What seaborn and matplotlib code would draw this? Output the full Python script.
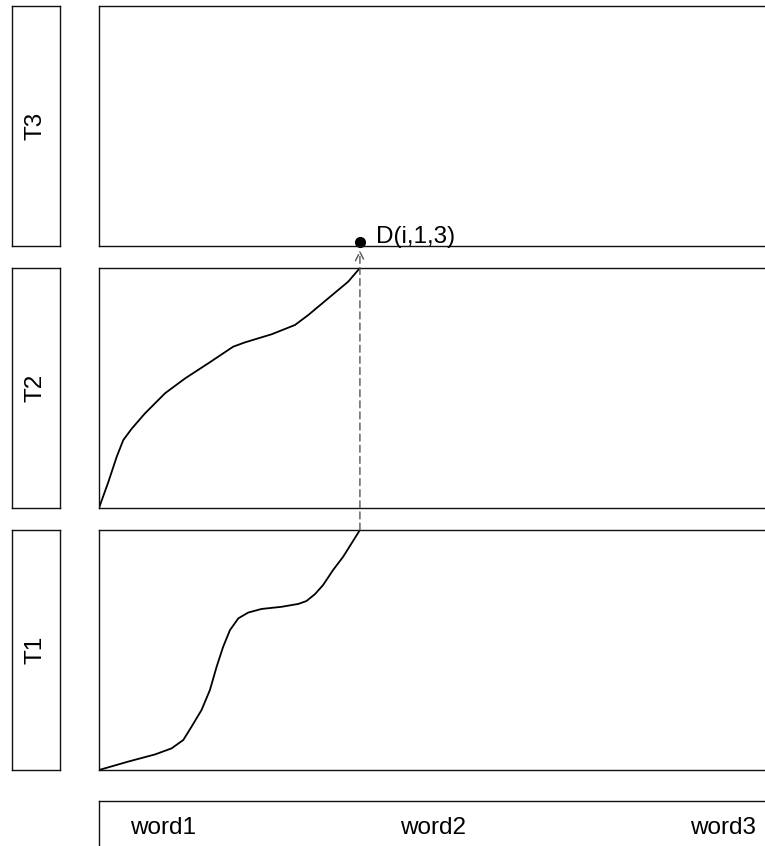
import matplotlib
matplotlib.use("Agg")
import matplotlib.pyplot as plt
from matplotlib.patches import ConnectionPatch
import seaborn as sns
import pandas as pd

sns.set_style("white")
plt.rcParams["font.family"] = ["Liberation Sans", "DejaVu Sans"]
plt.rcParams["text.color"] = "black"

# Cumulative attention curves, position 1.0 is word i
t1_x = [0.0, 0.112, 0.215, 0.278, 0.323, 0.355, 0.393, 0.425, 0.451, 0.476, 0.502,
        0.534, 0.572, 0.623, 0.7, 0.764, 0.795, 0.828, 0.859, 0.897, 0.936, 1.0]
t1_y = [0.0, 0.035, 0.065, 0.09, 0.125, 0.181, 0.25, 0.333, 0.431, 0.514, 0.583,
        0.632, 0.656, 0.671, 0.68, 0.692, 0.704, 0.733, 0.771, 0.833, 0.889, 1.0]
t2_x = [0.0, 0.036, 0.068, 0.093, 0.125, 0.176, 0.253, 0.33, 0.419, 0.514, 0.559,
        0.662, 0.751, 0.802, 0.879, 0.955, 1.0]
t2_y = [0.0, 0.109, 0.214, 0.283, 0.33, 0.394, 0.478, 0.54, 0.603, 0.672, 0.69,
        0.724, 0.7625, 0.804, 0.874, 0.943, 1.0]

layer_names = ["T3", "T2", "T1"]
words = ["word1", "word2", "word3"]
word_pos = [0.245, 1.28, 2.39]
point_label = "D(i,1,3)"

W, H = 765, 846
fig = plt.figure(figsize=(W / 100, H / 100), dpi=100)

XMAX = 2.61
EDGE = "#111111"
FS = 17.5


def px_axes(left, top, right, bottom):
    return fig.add_axes([left / W, (H - bottom) / H, (right - left) / W, (bottom - top) / H])


def style(ax):
    ax.set_xticks([])
    ax.set_yticks([])
    for s in ax.spines.values():
        s.set_visible(True)
        s.set_color(EDGE)
        s.set_linewidth(1.0)


panel_rows = [(6, 246), (268, 508), (530, 770)]
panels = {}
for name, (top, bot) in zip(layer_names, panel_rows):
    lab = px_axes(12, top, 60, bot)
    style(lab)
    lab.text(0.5, 0.5, name, rotation=90, ha="center", va="center",
             fontsize=FS, transform=lab.transAxes)
    ax = px_axes(99, top, 780, bot)
    style(ax)
    panels[name] = ax

df1 = pd.DataFrame({"x": t1_x, "y": t1_y})
df2 = pd.DataFrame({"x": t2_x, "y": t2_y})
sns.lineplot(data=df1, x="x", y="y", ax=panels["T1"], color="black", lw=1.3, sort=False)
sns.lineplot(data=df2, x="x", y="y", ax=panels["T2"], color="black", lw=1.3, sort=False)
for ax in panels.values():
    ax.set_xlabel("")
    ax.set_ylabel("")
    ax.set_xlim(0, XMAX)
    ax.set_ylim(0, 1)

# Dashed arrow from the top of T1 up to the output node in T3
con = ConnectionPatch(xyA=(1.0, 1.0), coordsA=panels["T1"].transData,
                      xyB=(1.0, -0.018), coordsB=panels["T3"].transData,
                      arrowstyle="->", linestyle=(0, (5, 3)), color="#555555",
                      lw=1.0, mutation_scale=16)
fig.add_artist(con)

t3 = panels["T3"]
t3.plot([1.0], [0.017], "o", color="black", markersize=7, clip_on=False)
t3.annotate(point_label, xy=(1.0, 0.0125), xytext=(11.5, 0), textcoords="offset points",
            fontsize=FS, ha="left", va="baseline", annotation_clip=False)

# Word axis
wax = px_axes(99, 801, 780, 870)
style(wax)
wax.set_xlim(0, XMAX)
wax.set_ylim(0, 1)
for w, p in zip(words, word_pos):
    wax.text(p, (870 - 828) / 69, w, ha="center", va="center", fontsize=FS)

fig.savefig("out.png", dpi=100)
